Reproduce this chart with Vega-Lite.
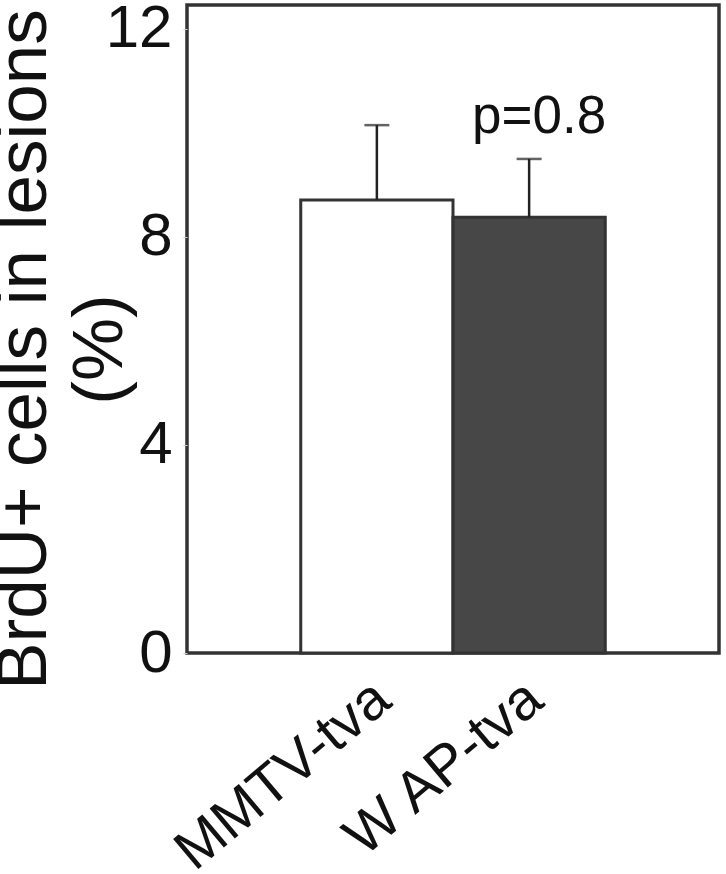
{
  "$schema": "https://vega.github.io/schema/vega-lite/v6.json",
  "autosize": {"type": "none"},
  "width": 532,
  "height": 648,
  "padding": {"left": 187, "top": 5, "right": 7, "bottom": 221},
  "background": "white",
  "config": {"view": {"stroke": "#333333", "strokeWidth": 3.5}, "font": "Liberation Sans"},
  "data": {"values": [
    {"group": "MMTV-tva", "value": 8.71, "upper": 10.15},
    {"group": "W AP-tva", "value": 8.38, "upper": 9.5}
  ]},
  "encoding": {
    "x": {
      "field": "group", "type": "nominal", "sort": null,
      "scale": {"paddingInner": 0, "paddingOuter": 0.747},
      "axis": {"title": null, "labelAngle": -40, "labelAlign": "right", "labelBaseline": "top", "labelFontSize": 57, "labelPadding": 17, "labelOffset": -12, "labelLimit": 0, "domain": false, "ticks": false, "labelColor": "#111111"}
    }
  },
  "layer": [
    {
      "mark": {"type": "bar", "stroke": "#333333", "strokeWidth": 3},
      "encoding": {
        "y": {
          "field": "value", "type": "quantitative",
          "scale": {"domain": [0, 12.46], "nice": false, "zero": true},
          "axis": {
            "values": [0, 4, 8, 12],
            "title": ["BrdU+ cells in lesions", "(%)"],
            "titleFontSize": 71, "titleFontWeight": "normal", "titleColor": "#111111",
            "titleAngle": -90, "titleX": -142, "titleY": 344, "titleAlign": "center", "titleBaseline": "alphabetic",
            "titleLineHeight": 76, "titleLimit": 0,
            "labelFontSize": 60, "labelColor": "#111111", "labelPadding": 11,
            "domain": false, "tickColor": "#cccccc", "tickSize": 4, "grid": false
          }
        },
        "fill": {"field": "group", "type": "nominal", "sort": null, "scale": {"range": ["#ffffff", "#474747"]}, "legend": null}
      }
    },
    {
      "mark": {"type": "rule", "strokeWidth": 2.5, "color": "#222222"},
      "encoding": {
        "y": {"field": "value", "type": "quantitative"},
        "y2": {"field": "upper"}
      }
    },
    {
      "mark": {"type": "tick", "orient": "horizontal", "size": 25, "thickness": 2.5, "color": "#222222"},
      "encoding": {
        "y": {"field": "upper", "type": "quantitative"}
      }
    },
    {
      "data": {"values": [{"group": "W AP-tva", "py": 10, "label": "p=0.8"}]},
      "mark": {"type": "text", "fontSize": 53, "baseline": "alphabetic", "align": "center", "dx": 10, "color": "#111111"},
      "encoding": {
        "y": {"field": "py", "type": "quantitative"},
        "text": {"field": "label"}
      }
    }
  ]
}
